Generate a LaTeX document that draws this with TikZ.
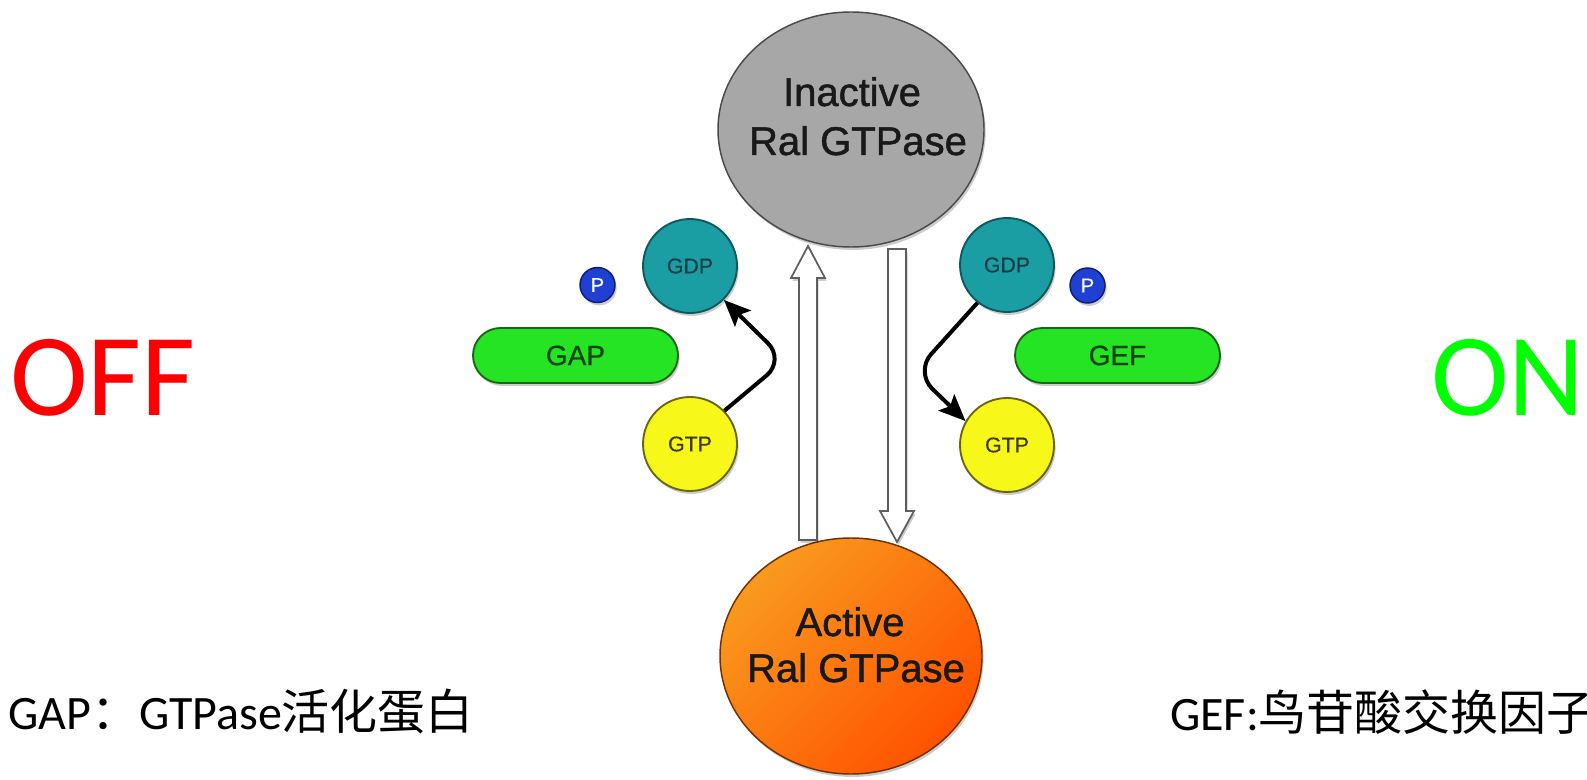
\documentclass[tikz,border=0pt]{standalone}
\usepackage{fontspec}
\setmainfont{Carlito}
\newfontfamily\arialf[FakeBold=1.2]{Liberation Sans}
\newfontfamily\arialm[FakeBold=0.6]{Liberation Sans}
\newfontfamily\cjk{Noto Sans CJK SC}
\usetikzlibrary{shapes.geometric,shadows,arrows.meta}

\definecolor{inactgray}{HTML}{A7A7A7}
\definecolor{inactedge}{HTML}{4A4A4A}
\definecolor{actedge}{HTML}{6E3200}
\definecolor{orangeA}{HTML}{F99A1E}
\definecolor{orangeB}{HTML}{FF5200}
\definecolor{gdpteal}{HTML}{1B9DA4}
\definecolor{gdpedge}{HTML}{0E585D}
\definecolor{gdptext}{HTML}{123F45}
\definecolor{gtpyellow}{HTML}{F7F71A}
\definecolor{gtpedge}{HTML}{6A6512}
\definecolor{gtptext}{HTML}{3E3A10}
\definecolor{pillgreen}{HTML}{24E424}
\definecolor{pilledge}{HTML}{1B651B}
\definecolor{pilltext}{HTML}{0F420F}
\definecolor{pblue}{HTML}{1F40D2}
\definecolor{pedge}{HTML}{0C1E78}
\definecolor{arrowedge}{HTML}{5E5E5E}
\definecolor{offred}{HTML}{FF0000}
\definecolor{ongreen}{HTML}{00FF00}

\begin{document}
\begin{tikzpicture}[x=0.75pt,y=-0.75pt,
  softshadow/.style={drop shadow={shadow xshift=1.2pt,shadow yshift=-2.2pt,opacity=0.2,fill=black}},
  protein/.style={ellipse,inner sep=0pt,line width=1.1pt,softshadow},
  proteinlbl/.style={anchor=base,inner sep=0pt,text=black!90,font=\arialf\fontsize{30}{30}\selectfont},
  nucleotide/.style={circle,inner sep=0pt,minimum size=70.5pt,line width=1.4pt,softshadow,
    font=\arialm\fontsize{16}{16}\selectfont},
  gdp/.style={nucleotide,fill=gdpteal,draw=gdpedge,text=gdptext},
  gtp/.style={nucleotide,fill=gtpyellow,draw=gtpedge,text=gtptext},
  phos/.style={circle,inner sep=0pt,minimum size=26.25pt,fill=pblue,draw=pedge,line width=1.1pt,
    text=white,softshadow,font=\arialm\fontsize{15}{15}\selectfont},
  pill/.style={rectangle,rounded corners=20.6pt,minimum width=153.75pt,minimum height=41.25pt,
    inner sep=0pt,fill=pillgreen,draw=pilledge,line width=1.4pt,text=pilltext,softshadow,
    font=\arialm\fontsize{21}{21}\selectfont},
  hollow/.style={fill=white,draw=arrowedge,line width=1.3pt,line join=miter,softshadow},
  turnarrow/.style={line width=3pt,rounded corners=18pt,
    -{Stealth[length=20pt,width=17pt,inset=4pt]}},
  bigword/.style={anchor=base west,inner sep=0pt,font=\fontsize{88}{88}\selectfont},
  note/.style={anchor=base west,inner sep=0pt,font=\fontsize{36}{36}\selectfont}]

% page
\fill[white] (0,0) rectangle (1587,780);
\useasboundingbox (0,0) rectangle (1587,780);

% the two states of the GTPase
\node[protein,fill=inactgray,draw=inactedge,minimum width=199.5pt,minimum height=176.25pt]
  (inact) at (851,129.5) {};
\node[protein,draw=actedge,left color=orangeA,right color=orangeB,shading angle=45,
  minimum width=196.5pt,minimum height=177pt] (act) at (851,656) {};

\node[proteinlbl] (inact1) at (852,106) {Inactive};
\node[proteinlbl] (inact2) at (858,155) {Ral GTPase};
\node[proteinlbl] (act1) at (850,636) {Active};
\node[proteinlbl] (act2) at (856,682) {Ral GTPase};

% hollow transition arrows
\path[hollow] (799,540) -- (817,540) -- (817,278) -- (825,278) -- (808,246)
  -- (791,278) -- (799,278) -- cycle;
\path[hollow] (888,249) -- (906,249) -- (906,511) -- (914,511) -- (897,542)
  -- (880,511) -- (888,511) -- cycle;

% GAP side: GTP hydrolysis
\node[gdp] (gdpL) at (690,266) {GDP};
\node[gtp] (gtpL) at (690,444) {GTP};
\node[phos] (pL) at (597.5,285) {P};
\node[pill] (gap) at (575.5,355.5) {GAP};
\coordinate (bendL) at (785,360);
\draw[turnarrow] (gtpL.44) -- (bendL) -- (gdpL.-45);

% GEF side: nucleotide exchange
\node[gdp] (gdpR) at (1007,265) {GDP};
\node[gtp] (gtpR) at (1007,445) {GTP};
\node[phos] (pR) at (1087.5,285.5) {P};
\node[pill] (gef) at (1117.5,355.5) {GEF};
\coordinate (bendR) at (915,372);
\draw[turnarrow] (gdpR.-128) -- (bendR) -- (gtpR.150);

% state labels
\node[bigword,text=offred] (off) at (10,415) {OFF};
\node[bigword,text=ongreen] (on) at (1431,415) {ON};

% notes
\node[note] (gapnote) at (8,729) {GAP{\cjk ：}GTPase{\cjk 活化蛋白}};
\node[note] (gefnote) at (1170,730) {GEF:{\cjk 鸟苷酸交换因子}};
\end{tikzpicture}
\end{document}
